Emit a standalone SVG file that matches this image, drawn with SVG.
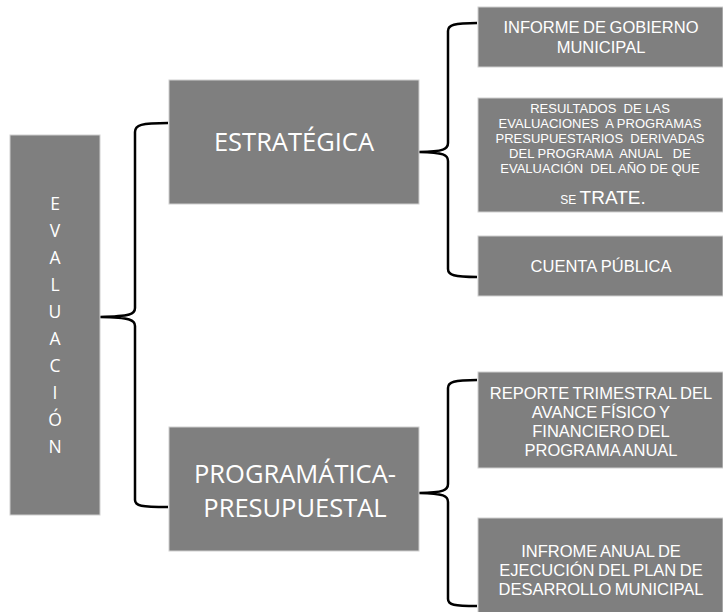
<svg xmlns="http://www.w3.org/2000/svg" width="723" height="612" viewBox="0 0 723 612">
<style>
.box{fill:#7f7f7f;stroke:#d0d0d0;stroke-width:1}
.big{font-family:"Open Sans",sans-serif;font-size:25.5px;fill:#ffffff;text-anchor:middle}
.ev{font-family:"Open Sans",sans-serif;font-size:17.5px;fill:#ffffff;text-anchor:middle}
.t{font-family:"Liberation Sans",Arial,sans-serif;font-size:16.5px;fill:#ffffff;text-anchor:middle}
.s{font-family:"Liberation Sans",Arial,sans-serif;font-size:13px;fill:#ffffff;text-anchor:middle;white-space:pre}
.br{fill:none;stroke:#000000;stroke-width:2.5;stroke-linecap:butt;stroke-linejoin:round}
</style>
<rect width="723" height="612" fill="#ffffff"/>
<g id="connectors">
<path class="br" d="M168,123 C141,123 135,125 135,132 L135,308 C135,314 131,316.5 100,317 C131,317.5 135,320 135,326 L135,500 C135,506 141,507 168,507"/>
<path class="br" d="M477,23 C454,23 448,25 448,31 L448,143 C448,149 444,151.5 419,152 C444,152.5 448,155 448,161 L448,269 C448,275 454,277 477,277"/>
<path class="br" d="M477,380 C454,380 448,382 448,388 L448,484 C448,490 444,492.5 419,493 C444,493.5 448,496 448,502 L448,599 C448,605 454,606 477,606"/>
</g>
<g id="evaluacion">
<rect class="box" x="10" y="135" width="90" height="380"/>
<text class="ev"><tspan x="55" y="210">E</tspan><tspan x="55" y="237">V</tspan><tspan x="55" y="264">A</tspan><tspan x="55" y="291">L</tspan><tspan x="55" y="318">U</tspan><tspan x="55" y="345">A</tspan><tspan x="55" y="372">C</tspan><tspan x="55" y="399">I</tspan><tspan x="55" y="426">Ó</tspan><tspan x="55" y="453">N</tspan></text>
</g>
<g id="estrategica">
<rect class="box" x="169" y="80" width="250" height="124"/>
<text class="big" x="294" y="151">ESTRATÉGICA</text>
</g>
<g id="programatica">
<rect class="box" x="169" y="427" width="250" height="124"/>
<text class="big"><tspan x="295" y="483">PROGRAMÁTICA-</tspan><tspan x="295" y="517">PRESUPUESTAL</tspan></text>
</g>
<g id="informe">
<rect class="box" x="478" y="7" width="245" height="60"/>
<text class="t" word-spacing="-1"><tspan x="601" y="33">INFORME DE GOBIERNO</tspan><tspan x="601" y="53">MUNICIPAL</tspan></text>
</g>
<g id="resultados">
<rect class="box" x="478" y="98" width="245" height="114"/>
<text class="s"><tspan x="600" y="113">RESULTADOS  DE LAS</tspan><tspan x="600" y="128">EVALUACIONES  A PROGRAMAS</tspan><tspan x="600" y="143">PRESUPUESTARIOS  DERIVADAS</tspan><tspan x="600" y="158">DEL PROGRAMA  ANUAL   DE</tspan><tspan x="600" y="173">EVALUACIÓN  DEL AÑO DE QUE</tspan></text>
<text class="t" x="603" y="204"><tspan font-size="12px">SE </tspan><tspan font-size="19px">TRATE.</tspan></text>
</g>
<g id="cuenta">
<rect class="box" x="478" y="236" width="245" height="60"/>
<text class="t" x="601" y="272">CUENTA PÚBLICA</text>
</g>
<g id="reporte">
<rect class="box" x="478" y="372" width="245" height="96"/>
<text class="t" word-spacing="-1"><tspan x="601" y="399">REPORTE TRIMESTRAL DEL</tspan><tspan x="601" y="418">AVANCE FÍSICO Y</tspan><tspan x="601" y="437">FINANCIERO DEL</tspan><tspan x="601" y="456">PROGRAMA ANUAL</tspan></text>
</g>
<g id="infrome">
<rect class="box" x="478" y="518" width="245" height="100"/>
<text class="t" word-spacing="-1"><tspan x="601" y="557">INFROME ANUAL DE</tspan><tspan x="601" y="576">EJECUCIÓN DEL PLAN DE</tspan><tspan x="601" y="595">DESARROLLO MUNICIPAL</tspan></text>
</g>
</svg>
